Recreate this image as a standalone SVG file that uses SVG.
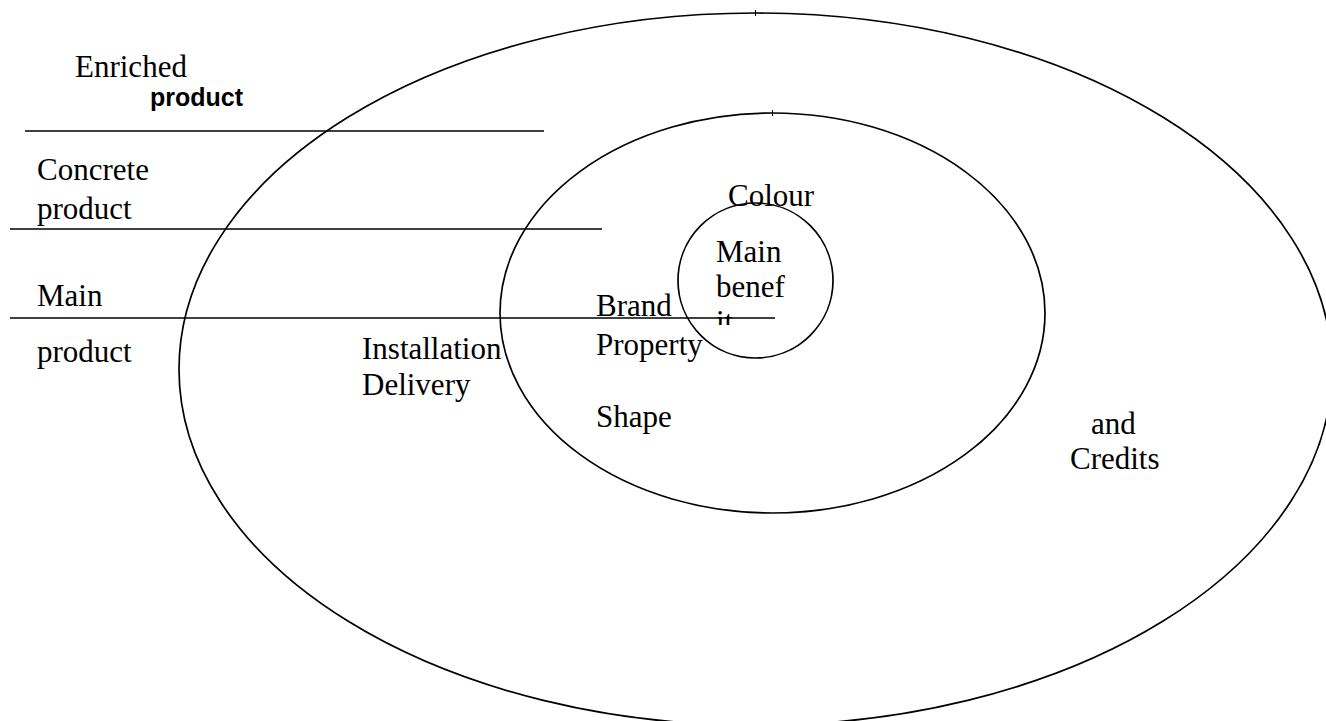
<svg xmlns="http://www.w3.org/2000/svg" width="1326" height="721" viewBox="0 0 1326 721">
<style>
.s{fill:none;stroke:#000;stroke-width:1.7}
.l{stroke:#000;stroke-width:1.7}
.k{stroke:#000;stroke-width:1}
.t{font-family:"Liberation Serif","Times New Roman",serif;font-size:31px;fill:#000}
.b{font-family:"Liberation Sans",Arial,sans-serif;font-size:25px;font-weight:bold;fill:#000}
</style>
<defs><clipPath id="cc"><rect x="700" y="230" width="120" height="95"/></clipPath></defs>
<rect width="1326" height="721" fill="#fff"/>
<g id="outer"><ellipse class="s" cx="755.5" cy="369.2" rx="576.5" ry="356.2"/><line class="k" x1="755.5" y1="10" x2="755.5" y2="16"/></g>
<g id="middle"><ellipse class="s" cx="772.5" cy="313" rx="272.5" ry="200"/><line class="k" x1="772.5" y1="110" x2="772.5" y2="116"/></g>
<g id="inner"><circle class="s" cx="755.5" cy="280.5" r="77.5"/></g>
<g id="connectors">
<line class="l" x1="25" y1="131" x2="544" y2="131"/>
<line class="l" x1="10" y1="229" x2="602" y2="229"/>
<line class="l" x1="10" y1="318" x2="775" y2="318"/>
</g>
<g id="labels">
<text class="t" x="75" y="77">Enriched</text>
<text class="b" x="150" y="106">product</text>
<text class="t" x="37" y="180">Concrete</text>
<text class="t" x="37" y="219">product</text>
<text class="t" x="37" y="306">Main</text>
<text class="t" x="37" y="362">product</text>
<text class="t" x="362" y="359">Installation</text>
<text class="t" x="362" y="395">Delivery</text>
<text class="t" x="596" y="316">Brand</text>
<text class="t" x="596" y="355">Property</text>
<text class="t" x="596" y="427">Shape</text>
<text class="t" x="728" y="206">Colour</text>
<g clip-path="url(#cc)">
<text class="t" x="716" y="262">Main</text>
<text class="t" x="716" y="297">benef</text>
<text class="t" x="716" y="332">it</text>
</g>
<text class="t" x="1091" y="434">and</text>
<text class="t" x="1070" y="469">Credits</text>
</g>
</svg>
